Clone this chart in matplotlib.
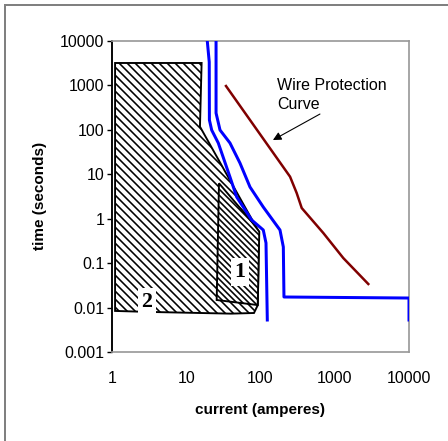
#!/usr/bin/env python3
"""Time-current coordination chart: breaker curves vs. wire protection curve."""

import matplotlib
matplotlib.use("Agg")
import matplotlib.pyplot as plt
from matplotlib.lines import Line2D
from matplotlib.patches import Polygon

# drawn at 72 dpi so one point is one pixel and the hatch cell is 72 px
# (3 and 4 px stripe periods then fall on the pixel grid)
DPI = 72

plt.rcParams["font.family"] = ["Liberation Sans", "DejaVu Sans"]
plt.rcParams["hatch.linewidth"] = 1.6

# --- data (current in A, time in s) ---
X_TICKS = [1, 10, 100, 1000, 10000]
X_LABELS = ["1", "10", "100", "1000", "10000"]
Y_TICKS = [0.001, 0.01, 0.1, 1, 10, 100, 1000, 10000]
Y_LABELS = ["0.001", "0.01", "0.1", "1", "10", "100", "1000", "10000"]

# region 2 (large hatched area)
region2_x = [1.10, 16.1, 15.3, 95.5, 92.0, 81.7, 40.0, 3.0, 1.10]
region2_y = [3200, 3200, 118, 0.50, 0.0114, 0.00755, 0.0073, 0.0080, 0.0084]

# region 1 (small hatched area)
region1_x = [27.6, 76.1, 96.3, 91.7, 25.7]
region1_y = [6.27, 0.857, 0.51, 0.0114, 0.0148]

# left blue trip curve
blue1_x = [19.2, 20.4, 20.5, 22.0, 27.0, 38.8, 47.8, 76.1, 109, 118.6, 123.5]
blue1_y = [10000, 3365, 167, 99, 50.6, 8.69, 3.08, 0.935, 0.557, 0.284, 0.00525]

# right blue trip curve
blue2_x = [25.2, 25.2, 28.5, 38.8, 52.9, 72.2, 109, 183, 203, 207, 10000, 10000]
blue2_y = [10000, 239, 99, 50.6, 17.9, 5.17, 1.83, 0.557, 0.231, 0.0173, 0.0164, 0.00525]

# wire protection curve
wire_x = [34.3, 250, 307, 359, 701, 1304, 2831]
wire_y = [970, 8.83, 3.79, 1.74, 0.477, 0.13, 0.0339]


def main() -> int:
    fig = plt.figure(figsize=(448 / DPI, 441 / DPI), dpi=DPI)
    ax = fig.add_axes([112 / 448, 89 / 441, 297 / 448, 311 / 441])
    ax.set_xscale("log")
    ax.set_yscale("log")
    ax.set_xlim(1, 10000)
    ax.set_ylim(0.001, 10000)

    # hatched regions
    ax.add_patch(Polygon(list(zip(region2_x, region2_y)), closed=True,
                         facecolor="white", edgecolor="black", lw=1.9,
                         hatch="\\\\\\", zorder=2))
    ax.add_patch(Polygon(list(zip(region1_x, region1_y)), closed=True,
                         facecolor="white", edgecolor="black", lw=1.9,
                         hatch="\\\\\\\\", zorder=3))

    ax.plot(blue1_x, blue1_y, color="#0000ff", lw=3.0, zorder=4)
    ax.plot(blue2_x, blue2_y, color="#0000ff", lw=3.0, zorder=4)
    ax.plot(wire_x, wire_y, color="#800000", lw=2.5, zorder=4)

    # region labels
    box = dict(facecolor="white", edgecolor="none", pad=4)
    serif = ["Liberation Serif", "DejaVu Serif"]
    ax.text(53, 0.063, "1", family=serif, fontsize=22, fontweight="bold",
            ha="center", va="center", bbox=box, zorder=5)
    ax.text(2.96, 0.0135, "2", family=serif, fontsize=22, fontweight="bold",
            ha="center", va="center", bbox=box, zorder=5)

    ax.text(167, 1470, "Wire Protection\nCurve", fontsize=16,
            ha="left", va="top", linespacing=1.3, zorder=5)
    ax.annotate("", xy=(147, 59), xytext=(632, 227),
                arrowprops=dict(arrowstyle="-|>", color="black", lw=1.1,
                                mutation_scale=17, shrinkA=0, shrinkB=0),
                zorder=5)

    # axes styling
    ax.set_xticks(X_TICKS)
    ax.set_xticklabels(X_LABELS)
    ax.set_yticks(Y_TICKS)
    ax.set_yticklabels(Y_LABELS)
    ax.minorticks_off()
    ax.tick_params(axis="x", length=0, pad=19, labelsize=16)
    ax.tick_params(axis="y", length=5.5, width=1.4, pad=2, labelsize=16)
    for side in ("top", "right", "bottom"):
        ax.spines[side].set_color("#999999")
        ax.spines[side].set_linewidth(1.7)
    ax.spines["left"].set_color("black")
    ax.spines["left"].set_linewidth(1.9)

    fig.text(260 / 448, 1 - 410 / 441, "current (amperes)", fontsize=15.3,
             fontweight="bold", ha="center", va="center")
    fig.text(40 / 448, 1 - 196 / 441, "time (seconds)", fontsize=15.3,
             fontweight="bold", ha="center", va="center", rotation=90)

    # outer frame
    fig.add_artist(Line2D([4.5 / 448, 4.5 / 448], [0, 1 - 4.5 / 441],
                          transform=fig.transFigure, color="#808080", lw=2))
    fig.add_artist(Line2D([4.5 / 448, 1], [1 - 4.5 / 441, 1 - 4.5 / 441],
                          transform=fig.transFigure, color="#808080", lw=2))

    fig.savefig("out.png", dpi=DPI)
    plt.close(fig)
    return 0


if __name__ == "__main__":
    raise SystemExit(main())
